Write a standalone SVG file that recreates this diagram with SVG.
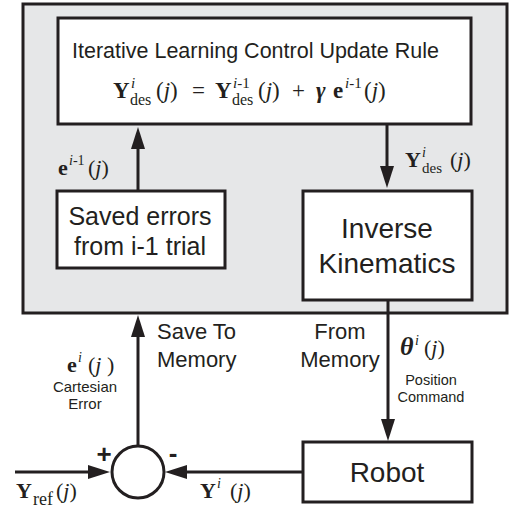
<svg xmlns="http://www.w3.org/2000/svg" width="511" height="510" viewBox="0 0 511 510">
<style>
.box{fill:#fff;stroke:#231f20;stroke-width:3}
.outer{fill:#e6e7e8;stroke:#231f20;stroke-width:3}
.ln{fill:none;stroke:#231f20;stroke-width:3}
.s{font-family:"Liberation Sans",Arial,sans-serif;fill:#231f20}
.m{font-family:"Liberation Serif","Times New Roman",serif;fill:#231f20}
.b{font-weight:bold}
.it{font-style:italic}
</style>
<defs>
<marker id="ah" markerUnits="userSpaceOnUse" markerWidth="22" markerHeight="14" refX="12" refY="7" orient="auto">
<path d="M0,0 L22,7 L0,14 z" fill="#231f20"/>
</marker>
</defs>
<g id="memory-block">
<rect class="outer" x="23" y="4" width="484" height="309"/>
</g>
<g id="ilc-rule">
<rect class="box" x="58" y="18" width="413" height="106"/>
<text class="s" x="72" y="58" font-size="21.5">Iterative Learning Control Update Rule</text>
<text class="m" y="98" font-size="23">
<tspan x="113" class="b">Y</tspan><tspan x="131" y="88" font-size="15" class="it">i</tspan><tspan x="130" y="105" font-size="16">des</tspan><tspan x="156" y="98">(</tspan><tspan class="it">j</tspan><tspan>)</tspan><tspan x="192">=</tspan><tspan x="215" class="b">Y</tspan><tspan x="233" y="88" font-size="15" class="it">i</tspan><tspan font-size="15">-1</tspan><tspan x="232" y="105" font-size="16">des</tspan><tspan x="258" y="98">(</tspan><tspan class="it">j</tspan><tspan>)</tspan><tspan x="292">+</tspan><tspan x="316" class="b it">γ</tspan><tspan x="333" class="b">e</tspan><tspan x="345" y="88" font-size="15" class="it">i</tspan><tspan font-size="15">-1</tspan><tspan x="364" y="98">(</tspan><tspan class="it">j</tspan><tspan>)</tspan>
</text>
</g>
<g id="saved-errors">
<rect class="box" x="57" y="191" width="168" height="77"/>
<text class="s" x="140" y="225" font-size="25" text-anchor="middle">Saved errors</text>
<text class="s" x="140" y="255" font-size="25" text-anchor="middle">from i-1 trial</text>
</g>
<g id="inverse-kinematics">
<rect class="box" x="303" y="191" width="169" height="109"/>
<text class="s" x="387" y="238" font-size="28" text-anchor="middle">Inverse</text>
<text class="s" x="387" y="273" font-size="28" text-anchor="middle">Kinematics</text>
</g>
<g id="robot">
<rect class="box" x="303" y="442" width="169" height="60"/>
<text class="s" x="387" y="482" font-size="28" text-anchor="middle">Robot</text>
</g>
<g id="summing-junction">
<circle cx="138" cy="472" r="26" fill="#fff" stroke="#231f20" stroke-width="3"/>
<text class="s" x="104" y="463" font-size="26" font-weight="bold" text-anchor="middle">+</text>
<text class="s" x="173" y="462" font-size="26" font-weight="bold" text-anchor="middle">-</text>
</g>
<g id="connectors">
<line class="ln" x1="138" y1="191" x2="138" y2="137" marker-end="url(#ah)"/>
<line class="ln" x1="387" y1="124" x2="387" y2="178" marker-end="url(#ah)"/>
<line class="ln" x1="388" y1="300" x2="388" y2="431" marker-end="url(#ah)"/>
<line class="ln" x1="138" y1="446" x2="138" y2="325" marker-end="url(#ah)"/>
<line class="ln" x1="303" y1="472" x2="175" y2="472" marker-end="url(#ah)"/>
<line class="ln" x1="15" y1="472" x2="100" y2="472" marker-end="url(#ah)"/>
</g>
<g id="labels">
<text class="m" y="175" font-size="22"><tspan x="58" class="b">e</tspan><tspan x="69" y="165" font-size="14" class="it">i</tspan><tspan font-size="14">-1</tspan><tspan x="88" y="175">(</tspan><tspan class="it">j</tspan><tspan>)</tspan></text>
<text class="m" y="167" font-size="22"><tspan x="405" class="b">Y</tspan><tspan x="422" y="157" font-size="14" class="it">i</tspan><tspan x="422" y="173" font-size="15">des</tspan><tspan x="450" y="167">(</tspan><tspan class="it">j</tspan><tspan>)</tspan></text>
<text class="s" x="157" y="339" font-size="22">Save To</text>
<text class="s" x="157" y="367" font-size="22">Memory</text>
<text class="s" x="340" y="339" font-size="22" text-anchor="middle">From</text>
<text class="s" x="340" y="367" font-size="22" text-anchor="middle">Memory</text>
<text class="m" y="372" font-size="22"><tspan x="67" class="b">e</tspan><tspan x="78" y="362" font-size="14" class="it">i</tspan><tspan x="88" y="372">(</tspan><tspan class="it">j</tspan><tspan> )</tspan></text>
<text class="s" x="85" y="392" font-size="15" text-anchor="middle">Cartesian</text>
<text class="s" x="85" y="409" font-size="15" text-anchor="middle">Error</text>
<text class="m" y="355" font-size="22"><tspan x="400" font-size="26" class="b it">θ</tspan><tspan x="415" y="345" font-size="14" class="it">i</tspan><tspan x="424" y="355">(</tspan><tspan class="it">j</tspan><tspan>)</tspan></text>
<text class="s" x="431" y="385" font-size="14.5" text-anchor="middle">Position</text>
<text class="s" x="431" y="402" font-size="14.5" text-anchor="middle">Command</text>
<text class="m" y="498" font-size="22"><tspan x="16" class="b">Y</tspan><tspan x="33" y="505" font-size="18">ref</tspan><tspan x="56" y="498">(</tspan><tspan class="it">j</tspan><tspan>)</tspan></text>
<text class="m" y="498" font-size="22"><tspan x="200" class="b">Y</tspan><tspan x="217" y="488" font-size="14" class="it">i</tspan><tspan x="230" y="498">(</tspan><tspan class="it">j</tspan><tspan>)</tspan></text>
</g>
</svg>
